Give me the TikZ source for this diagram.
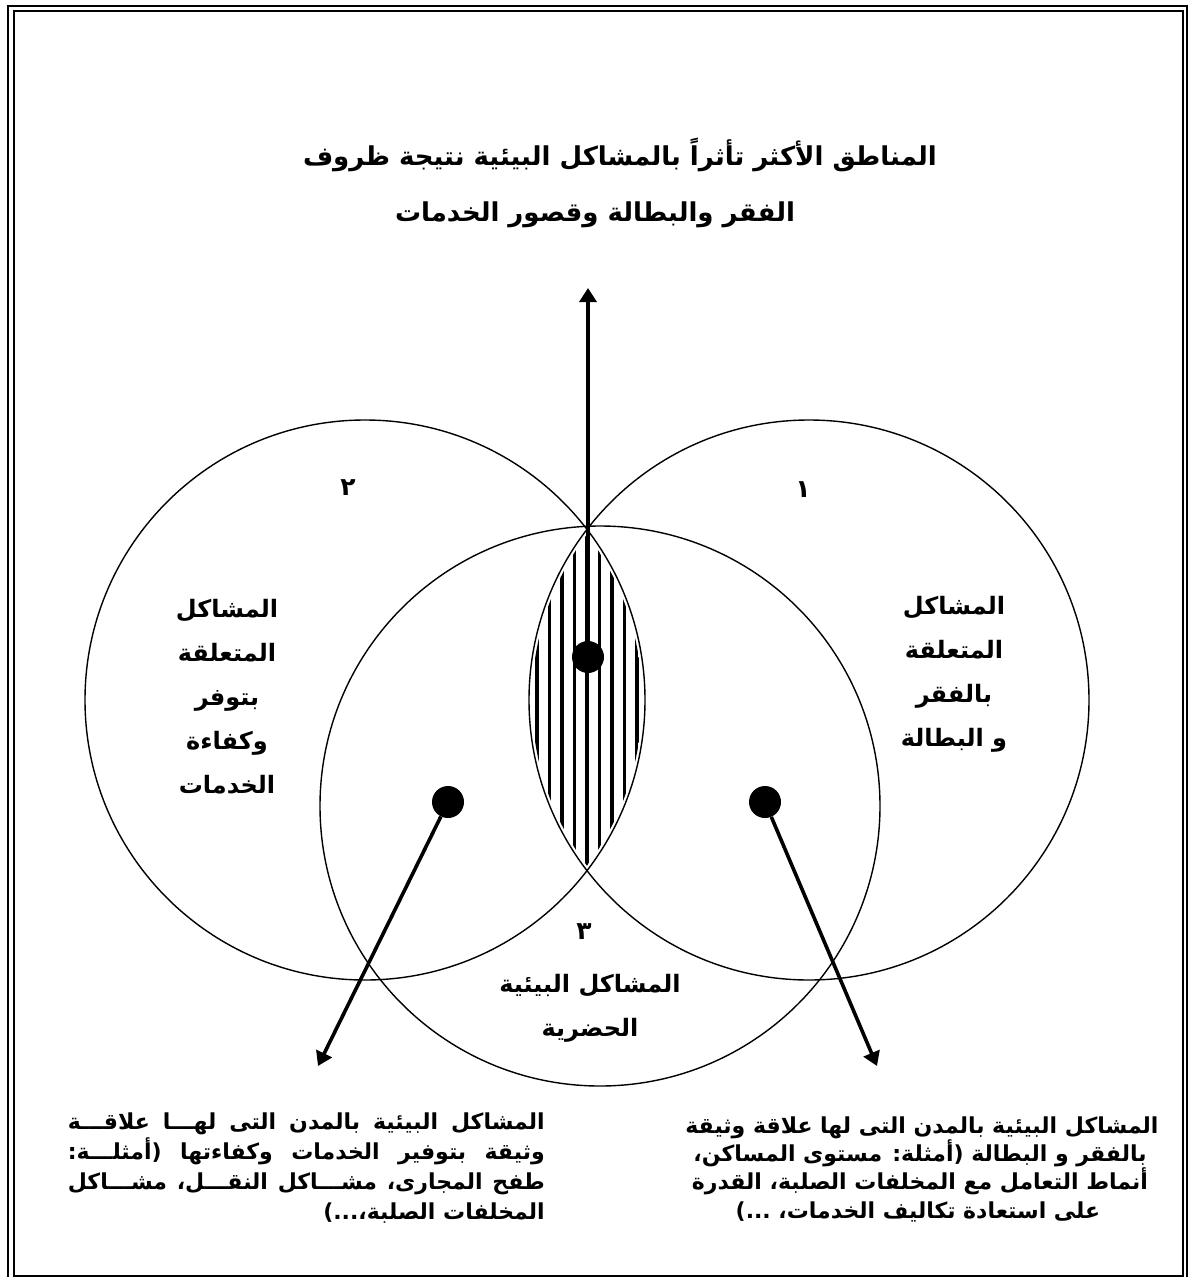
\documentclass[tikz,border=0pt]{standalone}
\usepackage{fontspec}
\usetikzlibrary{arrows.meta,positioning}
\newfontfamily\arabicfont[Script=Arabic]{DejaVu Sans}
\TeXXeTstate=1
\newcommand\arline[1]{\beginR #1\endR}

\tikzset{
  venn/.style={draw, circle, minimum size=560pt, inner sep=0pt, line width=1.4pt},
  dot/.style={circle, fill=black, minimum size=32pt, inner sep=0pt},
  pointer/.style={line width=3.6pt, -{Triangle[length=14pt,width=17pt]}},
  titletext/.style={font=\arabicfont\bfseries\fontsize{26}{32}\selectfont, inner sep=0pt},
  numtext/.style={font=\arabicfont\bfseries\fontsize{25}{30}\selectfont, inner sep=0pt},
  circtext/.style={font=\arabicfont\bfseries\fontsize{24}{44}\selectfont, inner sep=0pt, align=center},
  notetext/.style={font=\arabicfont\bfseries\fontsize{22}{26}\selectfont, inner sep=0pt},
}

\begin{document}
\begin{tikzpicture}[x=1pt, y=-1pt]
  \useasboundingbox (0,0) rectangle (1190,1277);
  % page frame
  \draw[line width=2pt] (8,1277) -- (8,6) -- (1187,6) -- (1187,1277);
  \draw[line width=1.2pt] (14,1276) -- (14,11) -- (1183,11) -- (1183,1276) -- cycle;
  % heading
  \node[titletext] (titleA) at (620,155) {\arline{المناطق الأكثر تأثراً بالمشاكل البيئية نتيجة ظروف}};
  \node[titletext] (titleB) at (595,215) {\arline{الفقر والبطالة وقصور الخدمات}};
  % three circles
  \node[venn] (services) at (365,700) {};
  \node[venn] (poverty) at (809,700) {};
  \node[venn] (urban) at (600,806) {};
  % hatched overlap of 1 and 2
  \begin{scope}
    \clip (365,700) circle[radius=277pt];
    \clip (809,700) circle[radius=277pt];
    \foreach \x in {537,549.5,...,640}
      \draw[line width=3.6pt] (\x,500) -- (\x,900);
  \end{scope}
  % dots and arrows
  \node[dot] (coreDot) at (588,657) {};
  \node[dot] (servDot) at (448,802) {};
  \node[dot] (povDot) at (765,802) {};
  \coordinate (topTip) at (588,288);
  \coordinate (servTip) at (318,1066);
  \coordinate (povTip) at (877,1066);
  \draw[pointer] (coreDot) -- (topTip);
  \draw[pointer] (servDot) -- (servTip);
  \draw[pointer] (povDot) -- (povTip);
  % numbers
  \node[numtext] (numServices) at (348,488) {\arline{٢}};
  \node[numtext] (numPoverty) at (803,490) {\arline{١}};
  \node[numtext] (numUrban) at (584,932) {\arline{٣}};
  % circle labels
  \node[circtext] (servicesText) at (227,697) {\arline{المشاكل}\\\arline{المتعلقة}\\\arline{بتوفر}\\\arline{وكفاءة}\\\arline{الخدمات}};
  \node[circtext] (povertyText) at (954,674) {\arline{المشاكل}\\\arline{المتعلقة}\\\arline{بالفقر}\\\arline{و البطالة}};
  \node[circtext] (urbanText) at (590,1008) {\arline{المشاكل البيئية}\\\arline{الحضرية}};
  % notes under the arrows
  \node[notetext, anchor=base east] (servNoteA) at (545,1129) {\hbox to 477pt{\arline{المشاكل البيئية بالمدن التى لهـــا علاقـــة}}};
  \node[notetext, anchor=base east] (servNoteB) at (545,1159) {\hbox to 477pt{\arline{وثيقة بتوفير الخدمات وكفاءتها (أمثلـــة:}}};
  \node[notetext, anchor=base east] (servNoteC) at (545,1189) {\hbox to 477pt{\arline{طفح المجارى، مشـــاكل النقـــل، مشـــاكل}}};
  \node[notetext, anchor=base east] (servNoteD) at (545,1219) {\arline{المخلفات الصلبة،...)}};
  \node[notetext, anchor=base] (povNoteA) at (922,1133) {\arline{المشاكل البيئية بالمدن التى لها علاقة وثيقة}};
  \node[notetext, anchor=base] (povNoteB) at (920,1161) {\arline{بالفقر و البطالة (أمثلة: مستوى المساكن،}};
  \node[notetext, anchor=base] (povNoteC) at (920,1189) {\arline{أنماط التعامل مع المخلفات الصلبة، القدرة}};
  \node[notetext, anchor=base] (povNoteD) at (918,1218) {\arline{على استعادة تكاليف الخدمات، ...)}};
\end{tikzpicture}
\end{document}
